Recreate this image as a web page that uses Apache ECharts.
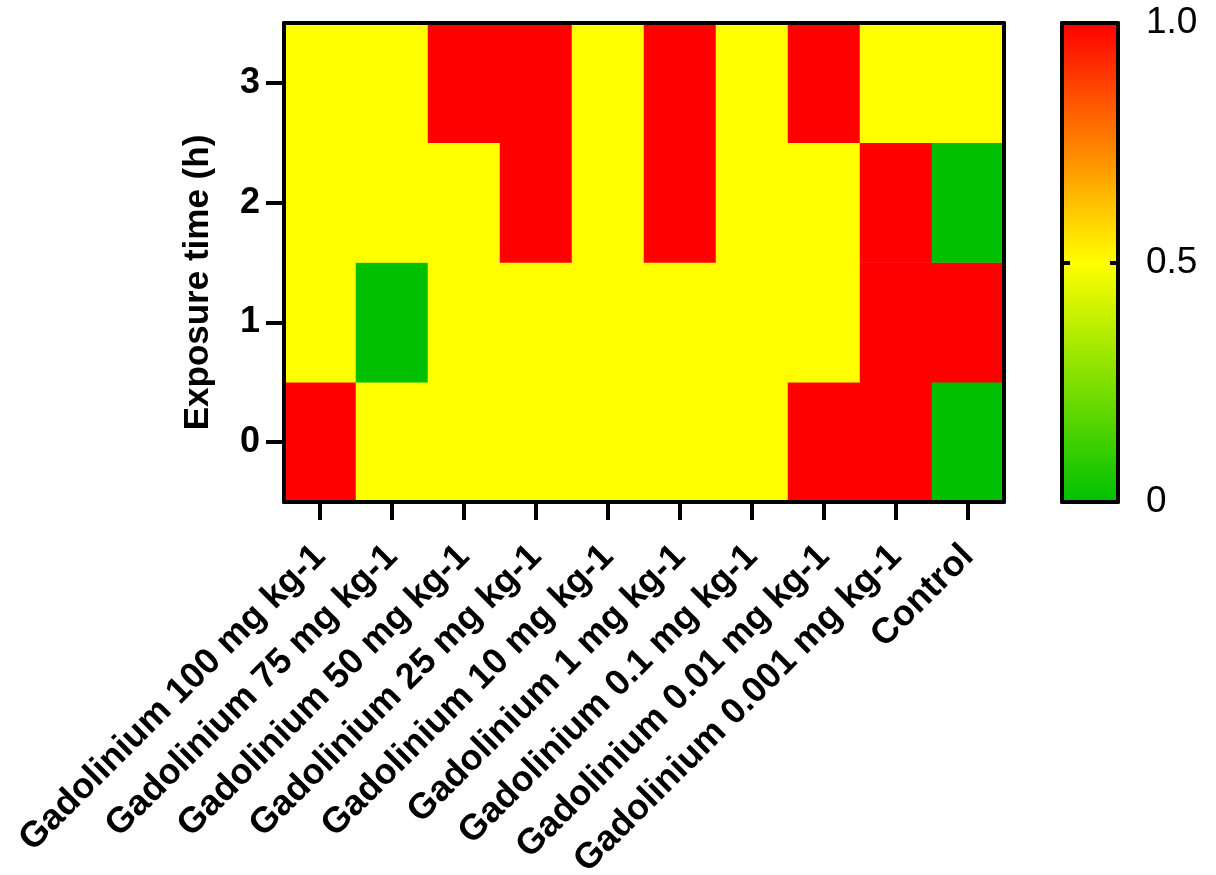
<!DOCTYPE html>
<html>
<head>
<meta charset="utf-8">
<title>Exposure heatmap</title>
<script src="https://cdn.jsdelivr.net/npm/echarts@6/dist/echarts.min.js"></script>
<style>
  html, body { margin: 0; padding: 0; background: #fff; }
  #chart { width: 1216px; height: 875px; }
</style>
</head>
<body>
<div id="chart"></div>
<script>
// categories on x axis
const doses = [
  'Gadolinium 100 mg kg-1',
  'Gadolinium 75 mg kg-1',
  'Gadolinium 50 mg kg-1',
  'Gadolinium 25 mg kg-1',
  'Gadolinium 10 mg kg-1',
  'Gadolinium 1 mg kg-1',
  'Gadolinium 0.1 mg kg-1',
  'Gadolinium 0.01 mg kg-1',
  'Gadolinium 0.001 mg kg-1',
  'Control'
];
// exposure time (h) on y axis
const hours = ['0', '1', '2', '3'];

// values per row (0 = green, 0.5 = yellow, 1 = red)
const hour0 = [1, 0.5, 0.5, 0.5, 0.5, 0.5, 0.5, 1, 1, 0];
const hour1 = [0.5, 0, 0.5, 0.5, 0.5, 0.5, 0.5, 0.5, 1, 1];
const hour2 = [0.5, 0.5, 0.5, 1, 0.5, 1, 0.5, 0.5, 1, 0];
const hour3 = [0.5, 0.5, 1, 1, 0.5, 1, 0.5, 1, 0.5, 0.5];

const scaleTicks = [0, 0.5, 1];
const scaleLabels = ['0', '0.5', '1.0'];

const rows = [hour0, hour1, hour2, hour3];
const cells = [];
rows.forEach((row, y) => {
  row.forEach((v, x) => cells.push([x, y, v]));
});

const font = "'Liberation Sans', Arial, Helvetica, sans-serif";
const black = '#000';
const lineW = 4;

// plot frame edges
const plot = { left: 284, right: 212, top: 23, bottom: 373 };
// colour bar box
const bar = { left: 1062, top: 23, width: 56, height: 479 };

// frame line only, no ticks or labels
const edge = (extra) => Object.assign({
  z: 10,
  axisLine: { show: true, onZero: false, lineStyle: { color: black, width: lineW } },
  axisTick: { show: false },
  axisLabel: { show: false },
  splitLine: { show: false }
}, extra);

const chart = echarts.init(document.getElementById('chart'));

chart.setOption({
  animation: false,
  textStyle: { fontFamily: font },
  grid: [
    {
      left: plot.left, right: plot.right, top: plot.top, bottom: plot.bottom,
      containLabel: false, outerBoundsMode: 'none'
    },
    {
      left: bar.left, top: bar.top, width: bar.width, height: bar.height,
      containLabel: false, outerBoundsMode: 'none'
    }
  ],
  xAxis: [
    {
      type: 'category',
      data: doses,
      gridIndex: 0,
      z: 10,
      axisLine: { show: true, onZero: false, lineStyle: { color: black, width: lineW } },
      axisTick: { show: true, alignWithLabel: true, length: 18, lineStyle: { color: black, width: 4 } },
      axisLabel: {
        rotate: 45,
        interval: 0,
        margin: 49,
        color: black,
        fontSize: 36,
        fontWeight: 'bold',
        fontFamily: font
      },
      splitLine: { show: false }
    },
    edge({ type: 'category', data: doses, gridIndex: 0, position: 'top' }),
    // colour bar frame (top and bottom edges)
    edge({ type: 'value', gridIndex: 1, position: 'bottom' }),
    edge({ type: 'value', gridIndex: 1, position: 'top' })
  ],
  yAxis: [
    {
      type: 'category',
      data: hours,
      gridIndex: 0,
      z: 10,
      name: 'Exposure time (h)',
      nameLocation: 'middle',
      nameGap: 68,
      nameRotate: 90,
      nameTextStyle: {
        color: black,
        fontSize: 35,
        fontWeight: 'bold',
        fontFamily: font,
        padding: [0, 40, 0, 0]
      },
      axisLine: { show: true, onZero: false, lineStyle: { color: black, width: lineW } },
      axisTick: { show: true, alignWithLabel: true, length: 18, lineStyle: { color: black, width: 4 } },
      axisLabel: { margin: 24, color: black, fontSize: 36, fontWeight: 'bold', fontFamily: font },
      splitLine: { show: false }
    },
    edge({ type: 'category', data: hours, gridIndex: 0, position: 'right' }),
    // colour bar scale, labels on the right
    {
      type: 'value',
      gridIndex: 1,
      position: 'right',
      min: 0,
      max: 1,
      interval: 0.5,
      z: 10,
      axisLine: { show: true, onZero: false, lineStyle: { color: black, width: lineW } },
      axisTick: { show: true, inside: true, length: 8, lineStyle: { color: black, width: 4 } },
      axisLabel: {
        margin: 28,
        color: black,
        fontSize: 37,
        fontFamily: font,
        formatter: (v) => scaleLabels[scaleTicks.indexOf(v)]
      },
      splitLine: { show: false }
    },
    {
      type: 'value',
      gridIndex: 1,
      position: 'left',
      min: 0,
      max: 1,
      interval: 0.5,
      z: 10,
      axisLine: { show: true, onZero: false, lineStyle: { color: black, width: lineW } },
      axisTick: { show: true, inside: true, length: 8, lineStyle: { color: black, width: 4 } },
      axisLabel: { show: false },
      splitLine: { show: false }
    }
  ],
  visualMap: {
    type: 'continuous',
    min: 0,
    max: 1,
    seriesIndex: 0,
    calculable: false,
    orient: 'vertical',
    left: bar.left,
    top: bar.top,
    padding: 0,
    itemWidth: bar.width,
    itemHeight: bar.height,
    text: null,
    showLabel: false,
    hoverLink: false,
    z: 2,
    inRange: { color: ['#00c000', '#ffff00', '#ff0000'] }
  },
  series: [
    {
      type: 'heatmap',
      xAxisIndex: 0,
      yAxisIndex: 0,
      data: cells,
      itemStyle: { borderWidth: 0 },
      emphasis: { disabled: true }
    }
  ]
});
</script>
</body>
</html>
